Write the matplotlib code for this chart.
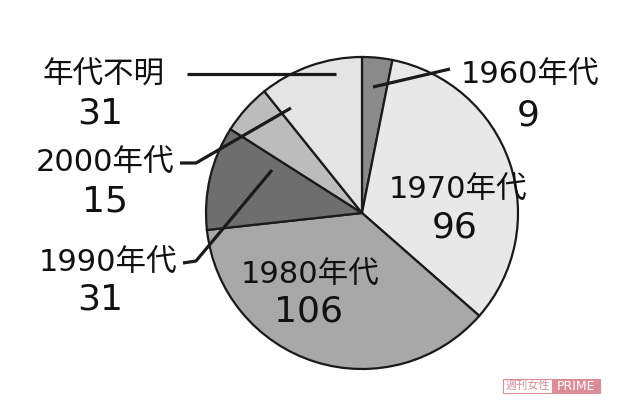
import matplotlib.pyplot as plt
from matplotlib.patches import Rectangle

plt.rcParams['font.family'] = ['DejaVu Sans', 'Noto Sans CJK JP']

# data, clockwise from 12 o'clock
decades = ['1960年代', '1970年代', '1980年代', '1990年代', '2000年代', '年代不明']
counts = [9, 96, 106, 31, 15, 31]
colors = ['#8a8a8a', '#e8e8e8', '#a8a8a8', '#6e6e6e', '#bcbcbc', '#e4e4e4']

W, H = 620, 413


def py(y):
    # picture pixel row -> data y
    return H - y


fig = plt.figure(figsize=(6.2, 4.13), dpi=100)
ax = fig.add_axes([0, 0, 1, 1])

ax.pie(counts, colors=colors, startangle=90, counterclock=False,
       center=(362, py(213)), radius=156,
       wedgeprops=dict(edgecolor='#1a1a1a', linewidth=1.6))

ax.set_xlim(0, W)
ax.set_ylim(0, H)
ax.set_aspect('equal')
ax.axis('off')

# label positions (name centre, value centre) in picture pixels
label_pos = {
    '1960年代': ((530, 75), (528, 115)),
    '1970年代': ((458, 190), (455, 227)),
    '1980年代': ((310, 275), (308, 312)),
    '1990年代': ((108, 263), (100, 300)),
    '2000年代': ((105, 163), (105, 202)),
    '年代不明': ((104, 75), (100, 113)),
}

for name, n in zip(decades, counts):
    (lx, ly), (vx, vy) = label_pos[name]
    ax.text(lx, py(ly), name, fontsize=22, ha='center', va='center', color='#111111')
    ax.text(vx, py(vy), str(n), fontsize=26, ha='center', va='center', color='#111111')

# leader lines
leaders = [
    [(187, 74), (336, 74)],
    [(450, 69), (373, 87)],
    [(180, 163), (196, 163), (291, 108)],
    [(183, 263), (196, 261), (272, 170)],
]
for pts in leaders:
    ax.plot([p[0] for p in pts], [py(p[1]) for p in pts],
            color='#1a1a1a', linewidth=2.3, solid_capstyle='butt')

# watermark
pink = '#dc8c96'
ax.add_patch(Rectangle((503, py(393)), 49, 14, facecolor='white', edgecolor=pink, linewidth=0.8))
ax.add_patch(Rectangle((552, py(393)), 48, 14, facecolor=pink, edgecolor=pink, linewidth=0.8))
ax.text(527.5, py(386), '週刊女性', fontsize=8, color=pink, ha='center', va='center',
        family=['Noto Sans CJK JP'])
ax.text(576, py(386), 'PRIME', fontsize=9, color='white', ha='center', va='center')

fig.savefig('out.png', dpi=100, facecolor='white')
